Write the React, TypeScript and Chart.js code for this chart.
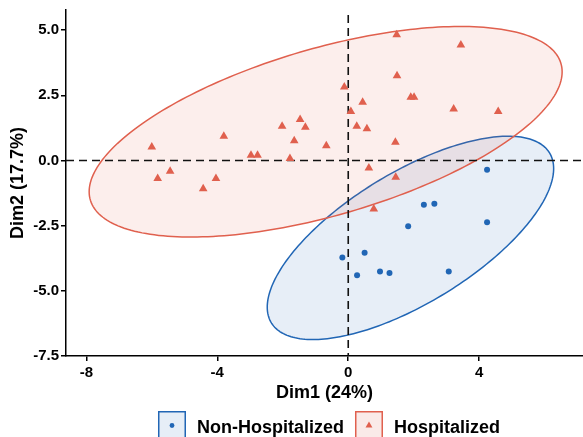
import { useEffect, useRef } from "react";
import { Chart, registerables } from "chart.js";
Chart.register(...registerables);

const groupNames = ["Non-Hospitalized", "Hospitalized"];
const groupColors = ["#2166B5", "#E0604E"];
const groupFills = ["rgba(33,102,181,0.11)", "rgba(224,96,78,0.11)"];

const nonHospX = [4.24, 2.31, 2.63, 1.83, 4.24, -0.18, 0.5, 0.27, 0.97, 1.26, 3.07];
const nonHospY = [-0.36, -1.7, -1.66, -2.52, -2.37, -3.72, -3.54, -4.4, -4.26, -4.32, -4.26];

const hospX = [-6.0, -5.82, -5.44, -4.43, -4.04, -3.8, -2.97, -2.77, -2.02, -1.65, -1.47, -1.31, -1.78, -0.67, -0.12, 0.08, 0.44, 0.26, 0.57, 0.63, 0.78, 1.44, 1.48, 1.49, 1.91, 2.01, 3.22, 3.44, 4.58, 1.45];
const hospY = [0.52, -0.69, -0.41, -1.09, -0.69, 0.93, 0.2, 0.2, 1.31, 0.76, 1.57, 1.27, 0.07, 0.56, 2.82, 1.88, 2.23, 1.31, 1.22, -0.29, -1.86, 0.7, 4.82, 3.25, 2.42, 2.42, 1.97, 4.43, 1.88, -0.64];

// confidence ellipses: centre x, centre y, semi-major, semi-minor, angle (deg)
const nonHospEllipse = [1.9, -2.97, 5.38, 2.32, 40.2];
const hospEllipse = [-0.69, 1.1, 7.66, 3.13, 21.4];

const xTicks = [-8, -4, 0, 4];
const yTicks = [-7.5, -5, -2.5, 0, 2.5, 5];
const xRange = [-8.62, 7.17];
const yRange = [-7.5, 5.77];

const xTitle = "Dim1 (24%)";
const yTitle = "Dim2 (17.7%)";

const FONT = '"Liberation Sans", Arial, sans-serif';

const toPoints = (xs: number[], ys: number[]) => xs.map((x, i) => ({ x, y: ys[i] }));

const overlayPlugin = {
  id: "overlay",
  beforeDatasetsDraw(chart: any) {
    const { ctx, chartArea, scales } = chart;
    const xs = scales.x;
    const ys = scales.y;
    ctx.save();
    ctx.beginPath();
    ctx.rect(chartArea.left, chartArea.top, chartArea.right - chartArea.left, chartArea.bottom - chartArea.top);
    ctx.clip();
    [nonHospEllipse, hospEllipse].forEach((e, gi) => {
      const [cx, cy, a, b, deg] = e;
      const th = (deg * Math.PI) / 180;
      ctx.beginPath();
      const n = 240;
      for (let i = 0; i <= n; i++) {
        const t = (i / n) * Math.PI * 2;
        const dx = a * Math.cos(th) * Math.cos(t) - b * Math.sin(th) * Math.sin(t);
        const dy = a * Math.sin(th) * Math.cos(t) + b * Math.cos(th) * Math.sin(t);
        const px = xs.getPixelForValue(cx + dx);
        const py = ys.getPixelForValue(cy + dy);
        if (i === 0) ctx.moveTo(px, py);
        else ctx.lineTo(px, py);
      }
      ctx.closePath();
      ctx.fillStyle = groupFills[gi];
      ctx.fill();
      ctx.strokeStyle = groupColors[gi];
      ctx.lineWidth = 1.5;
      ctx.stroke();
    });
    // dashed reference lines
    ctx.strokeStyle = "#111";
    ctx.lineWidth = 1.6;
    ctx.setLineDash([8, 5]);
    const x0 = xs.getPixelForValue(0);
    const y0 = ys.getPixelForValue(0);
    ctx.beginPath();
    ctx.moveTo(x0, chartArea.top + 5);
    ctx.lineTo(x0, chartArea.bottom);
    ctx.moveTo(chartArea.left, y0);
    ctx.lineTo(chartArea.right, y0);
    ctx.stroke();
    ctx.restore();
  },
  afterDraw(chart: any) {
    const { ctx } = chart;
    ctx.save();
    ctx.font = `bold 18px ${FONT}`;
    const box = 28;
    const gap = 11;
    const widths = groupNames.map((g) => ctx.measureText(g).width);
    const total = widths.reduce((s, w) => s + box + gap + w, 0) + gap;
    let x = 329 - total / 2;
    const top = 411;
    const baseline = 432.5;
    groupNames.forEach((g, i) => {
      ctx.fillStyle = i === 0 ? "#E6EEF7" : "#FAEAE8";
      ctx.fillRect(x, top, box, box);
      ctx.strokeStyle = groupColors[i];
      ctx.lineWidth = 1.5;
      ctx.strokeRect(x + 0.75, top + 0.75, box - 1.5, box - 1.5);
      const mx = x + box / 2;
      const my = top + 14.5;
      ctx.fillStyle = groupColors[i];
      ctx.beginPath();
      if (i === 0) {
        ctx.arc(mx, my, 2.4, 0, Math.PI * 2);
      } else {
        const r = 4;
        ctx.moveTo(mx, my - r);
        ctx.lineTo(mx + r * 0.866, my + r / 2);
        ctx.lineTo(mx - r * 0.866, my + r / 2);
        ctx.closePath();
      }
      ctx.fill();
      ctx.fillStyle = "#000";
      ctx.textBaseline = "alphabetic";
      ctx.textAlign = "left";
      ctx.fillText(g, x + box + gap, baseline);
      x += box + gap + widths[i] + gap;
    });
    ctx.restore();
  },
};

export default function App() {
  const ref = useRef<HTMLCanvasElement | null>(null);
  useEffect(() => {
    if (!ref.current) return;
    const chart = new Chart(ref.current, {
      type: "scatter",
      data: {
        datasets: [
          {
            label: groupNames[0],
            data: toPoints(nonHospX, nonHospY),
            pointStyle: "circle",
            pointRadius: 3,
            pointBorderWidth: 0,
            backgroundColor: groupColors[0],
            borderColor: groupColors[0],
          },
          {
            label: groupNames[1],
            data: toPoints(hospX, hospY),
            pointStyle: "triangle",
            pointRadius: 5,
            pointBorderWidth: 0,
            backgroundColor: groupColors[1],
            borderColor: groupColors[1],
          },
        ],
      },
      options: {
        animation: false,
        responsive: false,
        devicePixelRatio: 1,
        layout: { autoPadding: false, padding: { top: 10, right: 0, bottom: 30, left: 0 } },
        plugins: { legend: { display: false }, tooltip: { enabled: false } },
        scales: {
          x: {
            type: "linear",
            min: xRange[0],
            max: xRange[1],
            afterBuildTicks: (s: any) => {
              s.ticks = xTicks.map((v) => ({ value: v }));
            },
            afterFit: (s: any) => {
              s.height = 51;
              s.paddingLeft = 0;
              s.paddingRight = 0;
            },
            ticks: {
              color: "#000",
              padding: 3,
              font: { family: FONT, size: 15, weight: "bold" },
              callback: (v: any) => String(v),
            },
            grid: { drawOnChartArea: false, drawTicks: true, tickLength: 5, tickColor: "#000", lineWidth: 1.5 },
            border: { display: true, color: "#000", width: 1.5 },
            title: {
              display: true,
              text: xTitle,
              color: "#000",
              font: { family: FONT, size: 18, weight: "bold" },
              padding: { top: 0, bottom: 3 },
            },
          },
          y: {
            type: "linear",
            min: yRange[0],
            max: yRange[1],
            afterBuildTicks: (s: any) => {
              s.ticks = yTicks.map((v) => ({ value: v }));
            },
            afterFit: (s: any) => {
              s.width = 66;
              s.paddingTop = 0;
              s.paddingBottom = 0;
            },
            ticks: {
              color: "#000",
              padding: 2,
              font: { family: FONT, size: 15, weight: "bold" },
              callback: (v: any) => Number(v).toFixed(1),
            },
            grid: { drawOnChartArea: false, drawTicks: true, tickLength: 5, tickColor: "#000", lineWidth: 1.5 },
            border: { display: true, color: "#000", width: 1.5 },
            title: {
              display: true,
              text: yTitle,
              color: "#000",
              font: { family: FONT, size: 18, weight: "bold" },
              padding: { top: 7, bottom: 0 },
            },
          },
        },
      },
      plugins: [overlayPlugin],
    } as any);
    return () => chart.destroy();
  }, []);
  return (
    <div style={{ position: "absolute", left: 0, top: 0, width: 583, height: 437, background: "#fff" }}>
      <canvas ref={ref} width={583} height={437} />
    </div>
  );
}
